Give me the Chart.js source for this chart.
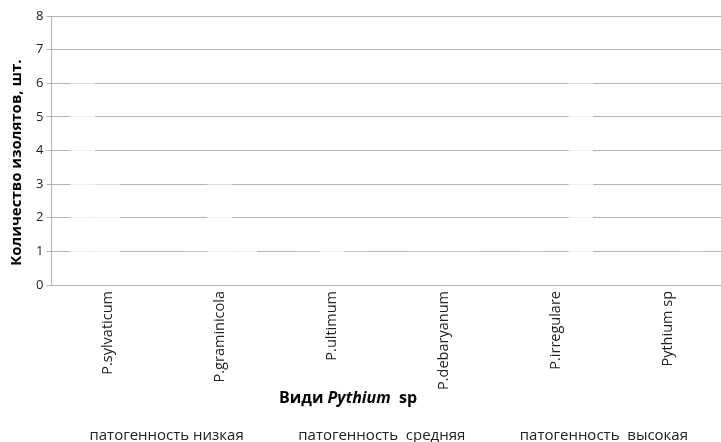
<!DOCTYPE html>
<html><head><meta charset="utf-8">
<script src="https://cdn.jsdelivr.net/npm/chart.js@4.4.1/dist/chart.umd.min.js"></script>
<style>html,body{margin:0;padding:0;background:#fff;overflow:hidden;width:721px;height:442px}canvas{display:block}</style>
</head><body>
<canvas id="c" width="724" height="442"></canvas>
<script>
const categories = ['P.sylvaticum', 'P.graminicola', 'P.ultimum', 'P.debaryanum', 'P.irregulare', 'Pythium sp'];
const seriesNames = ['патогенность низкая', 'патогенность  средняя', 'патогенность  высокая'];
const lowValues = [6, 1, 1, 1, 1, 0];
const mediumValues = [3, 3, 2, 1, 0, 0];
const highValues = [0, 2, 1, 1, 6, 1];
const yTickValues = [0, 1, 2, 3, 4, 5, 6, 7, 8];
const yTitle = 'Количество изолятов, шт.';
const xTitleParts = [['Види ', 'bold'], ['Pythium', 'italic bold'], ['  sp', 'bold']];

const FONT = "'Open Sans', 'Noto Sans', sans-serif";
const GRID = '#b4b4b4';

const barStyle = {
  backgroundColor: 'rgba(255,255,255,0.8)',
  borderColor: '#ffffff',
  borderWidth: {top: 2, left: 0, right: 0, bottom: 0},
  borderSkipped: 'start',
  categoryPercentage: 0.667,
  barPercentage: 1.0
};

const titlesPlugin = {
  id: 'axisTitles',
  afterDraw(chart) {
    const ctx = chart.ctx, a = chart.chartArea;
    ctx.save();
    ctx.fillStyle = '#000';
    ctx.textBaseline = 'middle';
    // x-axis title with italic genus name
    let total = 0;
    xTitleParts.forEach(p => { ctx.font = p[1] + ' 16px ' + FONT; total += ctx.measureText(p[0]).width; });
    let x = a.left + a.width * 0.441 - total / 2;
    const y = a.bottom + 113;
    xTitleParts.forEach(p => { ctx.font = p[1] + ' 16px ' + FONT; ctx.fillText(p[0], x, y); x += ctx.measureText(p[0]).width; });
    // y-axis title
    ctx.font = 'bold 15px ' + FONT;
    ctx.textAlign = 'center';
    ctx.translate(a.left - 34.5, a.top + a.height * 0.545);
    ctx.rotate(-Math.PI / 2);
    ctx.fillText(yTitle, 0, 0);
    ctx.restore();
  }
};

new Chart(document.getElementById('c'), {
  type: 'bar',
  data: {
    labels: categories,
    datasets: [
      Object.assign({label: seriesNames[0], data: lowValues}, barStyle),
      Object.assign({label: seriesNames[1], data: mediumValues}, barStyle),
      Object.assign({label: seriesNames[2], data: highValues}, barStyle)
    ]
  },
  options: {
    responsive: false,
    animation: false,
    devicePixelRatio: 1,
    layout: {padding: {top: 16, left: 0, right: 0, bottom: -11}},
    plugins: {
      tooltip: {enabled: false},
      legend: {
        position: 'bottom',
        labels: {
          color: '#222',
          font: {family: FONT, size: 15},
          boxWidth: 46,
          boxHeight: 10,
          padding: 1
        }
      }
    },
    scales: {
      x: {
        grid: {display: false},
        border: {display: true, color: GRID},
        ticks: {
          color: '#222',
          font: {family: FONT, size: 14.5},
          minRotation: 90, maxRotation: 90,
          padding: -2
        },
        afterFit(s) { s.height = 142; }
      },
      y: {
        min: 0, max: 8,
        afterBuildTicks(s) { s.ticks = yTickValues.map(v => ({value: v})); },
        grid: {color: GRID, tickLength: 5, drawTicks: true},
        border: {display: true, color: GRID},
        ticks: {color: '#222', font: {family: FONT, size: 13}, padding: 3},
        afterFit(s) { s.width = 51.5; }
      }
    }
  },
  plugins: [titlesPlugin]
});
</script>
</body></html>
